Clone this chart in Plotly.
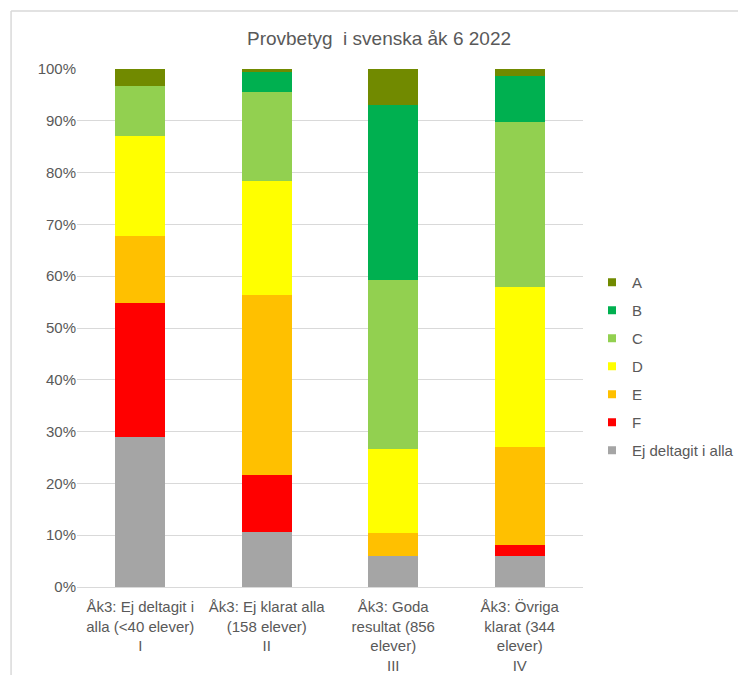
import plotly.graph_objects as go

categories = [
    "Åk3: Ej deltagit i<br>alla (&lt;40 elever)<br>I",
    "Åk3: Ej klarat alla<br>(158 elever)<br>II",
    "Åk3: Goda<br>resultat (856<br>elever)<br>III",
    "Åk3: Övriga<br>klarat (344<br>elever)<br>IV",
]
series_names = ["Ej deltagit i alla", "F", "E", "D", "C", "B", "A"]
ej = [29.0, 10.7, 6.0, 6.0]
f_vals = [25.9, 10.9, 0.0, 2.1]
e_vals = [12.9, 34.8, 4.5, 19.0]
d_vals = [19.3, 22.0, 16.1, 30.8]
c_vals = [9.7, 17.2, 32.7, 31.9]
b_vals = [0.0, 3.8, 33.7, 8.8]
a_vals = [3.2, 0.6, 7.0, 1.4]
colors = ["#A5A5A5", "#FF0000", "#FFC000", "#FFFF00", "#92D050", "#00B050", "#718A00"]

values = [ej, f_vals, e_vals, d_vals, c_vals, b_vals, a_vals]
FONT = "Liberation Sans, Arial, sans-serif"

fig = go.Figure()
for name, vals, col in zip(series_names, values, colors):
    fig.add_trace(go.Bar(
        x=categories, y=[v / 100 for v in vals], name=name,
        marker=dict(color=col, line=dict(width=0)),
        showlegend=False,
    ))
# legend-only markers, A at the top
for name, col in reversed(list(zip(series_names, colors))):
    fig.add_trace(go.Scatter(
        x=[None], y=[None], mode="markers", name=name, legendgroup=name,
        marker=dict(symbol="square", size=8, color=col),
    ))

W, H = 738, 675
L, R, T, B = 77, 154.5, 69, 88
pw = W - L - R
ph = H - T - B

def px_x(px):
    return (px - L) / pw

def px_y(py):
    return (H - B - py) / ph

fig.update_layout(
    width=W, height=H,
    margin=dict(l=L, r=R, t=T, b=B, autoexpand=False),
    barmode="stack", bargap=0.605,
    paper_bgcolor="white", plot_bgcolor="white",
    font=dict(family=FONT, color="#595959", size=15),
    title=dict(text="Provbetyg  i svenska åk 6 2022", x=379 / W, xref="container",
               xanchor="center", y=1 - 38 / H, yref="container", yanchor="middle",
               font=dict(size=19, color="#595959", family=FONT)),
    legend=dict(x=592 / W, y=1 - 266 / H, xref="container", yref="container",
                xanchor="left", yanchor="top",
                traceorder="grouped", tracegroupgap=5.5,
                font=dict(size=15, color="#595959", family=FONT),
                itemwidth=30, bgcolor="rgba(0,0,0,0)"),
    xaxis=dict(showline=False, ticks="", ticklabelstandoff=9, automargin=False,
               tickfont=dict(size=15, color="#595959")),
    yaxis=dict(range=[0, 1], dtick=0.1, tickformat=".0%", gridcolor="#D9D9D9",
               gridwidth=1, zeroline=True, zerolinecolor="#D9D9D9", zerolinewidth=1,
               showline=False, ticks="", automargin=False,
               tickfont=dict(size=15, color="#595959"), ticklen=0),
    shapes=[
        dict(type="line", xref="paper", yref="paper", x0=px_x(11), x1=px_x(11),
             y0=px_y(11), y1=px_y(676), line=dict(color="#D9D9D9", width=1.5)),
        dict(type="line", xref="paper", yref="paper", x0=px_x(11), x1=px_x(739),
             y0=px_y(11), y1=px_y(11), line=dict(color="#D9D9D9", width=1.5)),
    ],
)
fig.write_html(
    "out.html",
    config={"displayModeBar": False},
    post_script="document.body.style.margin='0';document.body.style.overflow='hidden';",
)
